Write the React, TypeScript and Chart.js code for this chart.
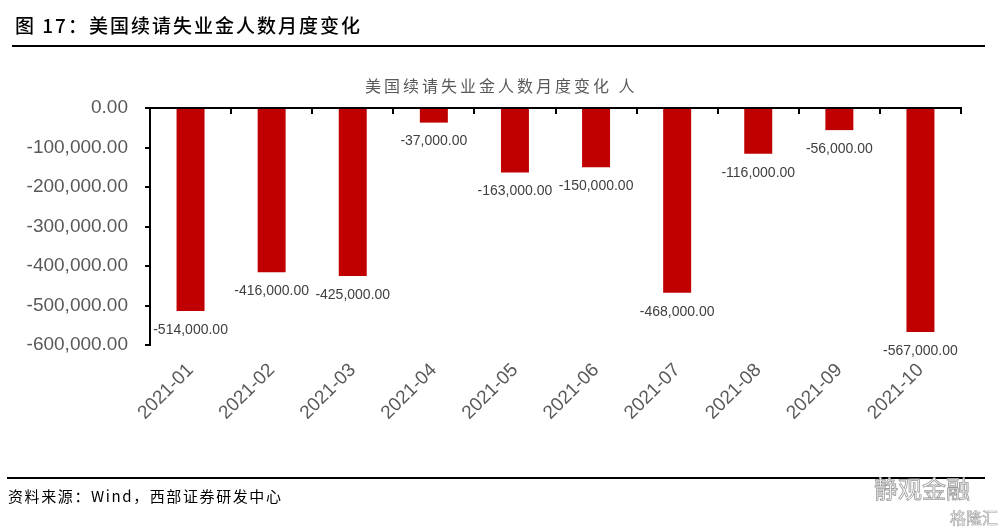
import React, { useEffect, useRef } from "react";
import { Chart, registerables } from "chart.js";

Chart.register(...registerables);

const categories = ["2021-01", "2021-02", "2021-03", "2021-04", "2021-05", "2021-06", "2021-07", "2021-08", "2021-09", "2021-10"];
const values = [-514000, -416000, -425000, -37000, -163000, -150000, -468000, -116000, -56000, -567000];
const yMin = -600000;
const yMax = 0;
const yStep = 100000;

const figureTitle = "图 17：美国续请失业金人数月度变化";
const chartTitle = "美国续请失业金人数月度变化 人";
const sourceText = "资料来源：Wind，西部证券研发中心";

const fmt = (v: number) =>
  v.toLocaleString("en-US", { minimumFractionDigits: 2, maximumFractionDigits: 2 });

const FONT = "'Liberation Sans', Arial, sans-serif";
const CJK = "'Noto Sans CJK SC', 'Noto Sans', sans-serif";

const topAxisPlugin = {
  id: "topAxis",
  afterDatasetsDraw(chart: any) {
    const { ctx, chartArea, scales } = chart;
    const y0 = scales.y.getPixelForValue(0);
    const n = categories.length;
    const w = (chartArea.right - chartArea.left) / n;
    ctx.save();
    ctx.strokeStyle = "#000";
    ctx.lineWidth = 2;
    ctx.beginPath();
    ctx.moveTo(chartArea.left - 5, y0);
    ctx.lineTo(chartArea.right + 1, y0);
    ctx.stroke();
    for (let i = 1; i <= n; i++) {
      const x = Math.round(chartArea.left + i * w);
      ctx.beginPath();
      ctx.moveTo(x, y0);
      ctx.lineTo(x, y0 + 6);
      ctx.stroke();
    }
    // data labels
    ctx.fillStyle = "#404040";
    ctx.font = `14px ${FONT}`;
    ctx.textAlign = "center";
    ctx.textBaseline = "middle";
    const meta = chart.getDatasetMeta(0);
    meta.data.forEach((bar: any, i: number) => {
      ctx.fillText(fmt(values[i]), bar.x, bar.y + 19);
    });
    ctx.restore();
  },
};

export default function App() {
  const ref = useRef<HTMLCanvasElement>(null);
  useEffect(() => {
    const chart = new Chart(ref.current!, {
      type: "bar",
      data: {
        labels: categories,
        datasets: [
          {
            data: values,
            backgroundColor: "#C00000",
            categoryPercentage: 1,
            barPercentage: 0.345,
          },
        ],
      },
      options: {
        animation: false,
        responsive: false,
        devicePixelRatio: 1,
        layout: { padding: { left: 0, right: 45, top: 108, bottom: 0 } },
        plugins: {
          legend: { display: false },
          tooltip: { enabled: false },
          title: { display: false },
        },
        scales: {
          x: {
            grid: { display: false },
            border: { display: false },
            ticks: {
              color: "#595959",
              font: { family: FONT, size: 19 },
              minRotation: 45,
              maxRotation: 45,
              padding: 6,
            },
            afterFit(scale: any) {
              scale.height = 532 - 345;
            },
          },
          y: {
            min: yMin,
            max: yMax,
            grid: {
              drawOnChartArea: false,
              drawTicks: true,
              tickLength: 5,
              color: "#000",
              lineWidth: 2,
            },
            border: { display: true, color: "#000", width: 2 },
            ticks: {
              stepSize: yStep,
              color: "#595959",
              font: { family: FONT, size: 19 },
              padding: 17,
              callback: (v: any) => fmt(Number(v)),
            },
            afterFit(scale: any) {
              scale.width = 150;
            },
          },
        },
      },
      plugins: [topAxisPlugin],
    });
    return () => chart.destroy();
  }, []);

  return (
    <div style={{ position: "absolute", left: 0, top: 0, width: 1006, height: 532, background: "#fff", overflow: "hidden" }}>
      <canvas ref={ref} width={1006} height={532} style={{ position: "absolute", left: 0, top: 0, width: 1006, height: 532 }} />
      <div
        style={{
          position: "absolute",
          left: 15,
          top: 12,
          fontFamily: CJK,
          fontSize: 19,
          fontWeight: 500,
          letterSpacing: 2,
          color: "#000",
          lineHeight: "26px",
          whiteSpace: "nowrap",
        }}
      >
        {figureTitle}
      </div>
      <div style={{ position: "absolute", left: 12, top: 45, width: 973, height: 1.5, background: "#000" }} />
      <div
        style={{
          position: "absolute",
          left: 365,
          top: 74,
          fontFamily: CJK,
          fontSize: 16,
          letterSpacing: 3.0,
          color: "#595959",
          lineHeight: "22px",
          whiteSpace: "nowrap",
        }}
      >
        {chartTitle}
      </div>
      <div style={{ position: "absolute", left: 7, top: 477, width: 978, height: 1.5, background: "#000" }} />
      <div
        style={{
          position: "absolute",
          left: 8,
          top: 486,
          fontFamily: CJK,
          fontSize: 15,
          letterSpacing: 1.6,
          color: "#000",
          lineHeight: "20px",
          whiteSpace: "nowrap",
        }}
      >
        {sourceText}
      </div>
      <div
        style={{
          position: "absolute",
          left: 874,
          top: 474,
          fontFamily: CJK,
          fontSize: 24,
          color: "#fff",
          WebkitTextStroke: "0.8px #9a9a9a",
          lineHeight: "28px",
          whiteSpace: "nowrap",
        }}
      >
        静观金融
      </div>
      <div
        style={{
          position: "absolute",
          left: 950,
          top: 507,
          fontFamily: CJK,
          fontSize: 16,
          color: "#fff",
          WebkitTextStroke: "0.6px #a0a0a0",
          lineHeight: "20px",
          whiteSpace: "nowrap",
        }}
      >
        格隆汇
      </div>
    </div>
  );
}
